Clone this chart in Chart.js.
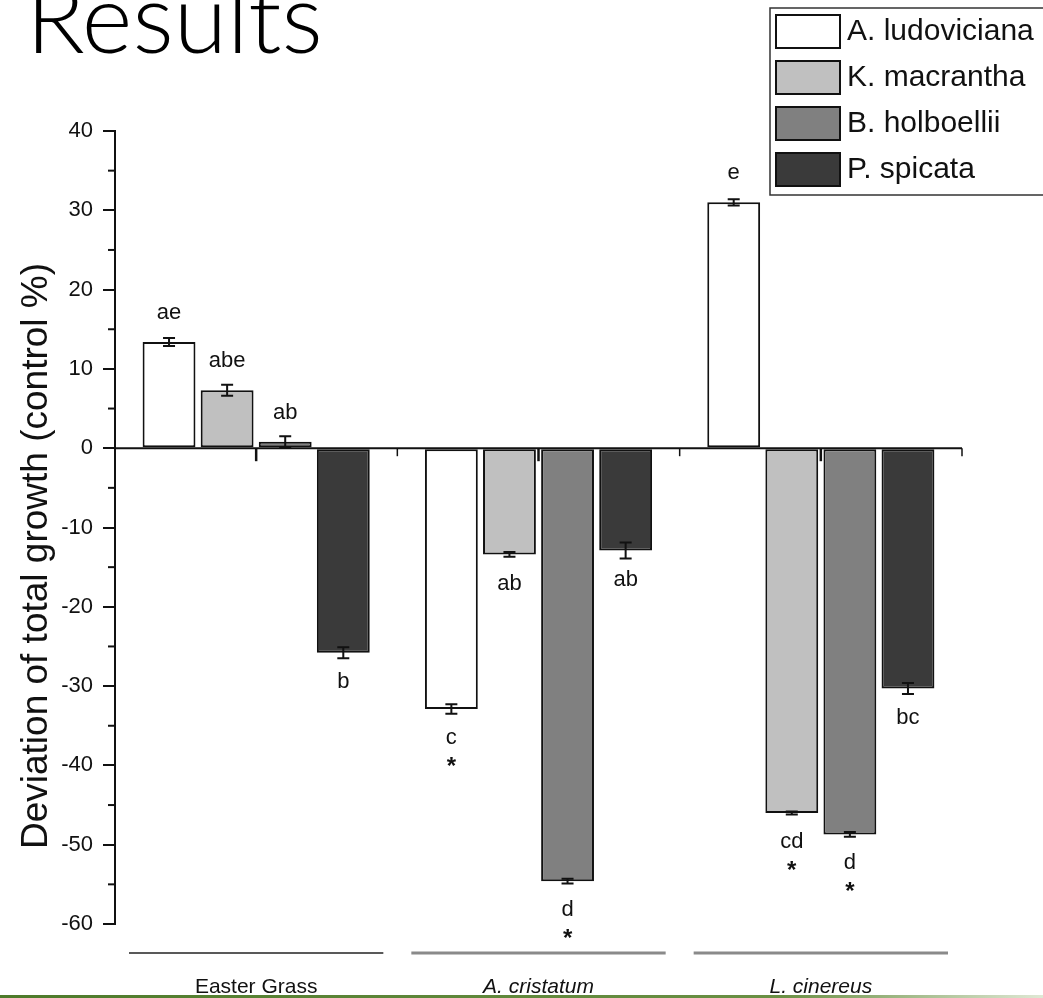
<!DOCTYPE html>
<html>
<head>
<meta charset="utf-8">
<script src="https://cdn.jsdelivr.net/npm/chart.js@4"></script>
<style>
  html, body { margin: 0; padding: 0; background: #fff; overflow: hidden; }
  #wrap { position: relative; width: 1043px; height: 998px; }
  #myChart { position: absolute; left: 0; top: 0; }
  #slideTitle {
    position: absolute; left: 26px; top: -33px; margin: 0;
    font-family: Lato, 'Open Sans', sans-serif; font-weight: 300;
    font-size: 97px; line-height: 97px; color: #000; white-space: nowrap;
  }
  #greenRule {
    position: absolute; left: 0; bottom: 0; width: 1043px; height: 3px;
    background: linear-gradient(to right, #4d7a2a 0%, #6a9044 75%, #dfe8d4 100%);
  }
</style>
</head>
<body>
<div id="wrap">
  <canvas id="myChart" width="1043" height="998"></canvas>
  <div id="slideTitle">Results</div>
  <div id="greenRule"></div>
</div>
<script>
// categories and series
const groups = ['Easter Grass', 'A. cristatum', 'L. cinereus'];
const italicGroups = [false, true, true];
const species = ['A. ludoviciana', 'K. macrantha', 'B. holboellii', 'P. spicata'];
const fills = ['#ffffff', '#c0c0c0', '#808080', '#3a3a3a'];

const ludoviciana = [13.4, -32.9, 31.0];
const macrantha = [7.3, -13.4, -46.0];
const holboellii = [0.8, -54.6, -48.7];
const spicata = [-25.8, -12.9, -30.3];

// standard errors
const errLudoviciana = [0.5, 0.6, 0.4];
const errMacrantha = [0.7, 0.3, 0.2];
const errHolboellii = [0.7, 0.3, 0.3];
const errSpicata = [0.7, 1.0, 0.7];

// significance letters and stars
const lettersLudoviciana = ['ae', 'c', 'e'];
const lettersMacrantha = ['abe', 'ab', 'cd'];
const lettersHolboellii = ['ab', 'd', 'd'];
const lettersSpicata = ['b', 'ab', 'bc'];
const starsLudoviciana = [false, true, false];
const starsMacrantha = [false, false, true];
const starsHolboellii = [false, true, true];
const starsSpicata = [false, false, false];

const yMin = -60, yMax = 40, yMajor = 10;
const yTitle = 'Deviation of total growth (control %)';

const series = [ludoviciana, macrantha, holboellii, spicata];
const errors = [errLudoviciana, errMacrantha, errHolboellii, errSpicata];
const letters = [lettersLudoviciana, lettersMacrantha, lettersHolboellii, lettersSpicata];
const stars = [starsLudoviciana, starsMacrantha, starsHolboellii, starsSpicata];

const FONT = "'Liberation Sans', Arial, sans-serif";
const INK = '#111';

const extras = {
    id: 'extras',
    afterDatasetsDraw(chart) {
        const ctx = chart.ctx;
        const x = chart.scales.x, y = chart.scales.y;
        const area = chart.chartArea;
        const y0 = y.getPixelForValue(0);
        ctx.save();

        // zero line with group ticks
        ctx.strokeStyle = INK;
        ctx.lineWidth = 2;
        ctx.beginPath();
        ctx.moveTo(area.left, y0);
        ctx.lineTo(area.right, y0);
        ctx.stroke();
        const catW = (area.right - area.left) / groups.length;
        for (let i = 0; i < groups.length; i++) {
            const cx = x.getPixelForValue(i);
            ctx.lineWidth = 2.5;
            ctx.beginPath();
            ctx.moveTo(cx, y0);
            ctx.lineTo(cx, y0 + 13);
            ctx.stroke();
            const bx = area.left + catW * (i + 1);
            ctx.lineWidth = 1.5;
            ctx.beginPath();
            ctx.moveTo(bx, y0);
            ctx.lineTo(bx, y0 + 8);
            ctx.stroke();
        }

        // minor y ticks
        ctx.lineWidth = 2;
        for (let v = yMin + yMajor / 2; v < yMax; v += yMajor) {
            const py = y.getPixelForValue(v);
            ctx.beginPath();
            ctx.moveTo(area.left - 7, py);
            ctx.lineTo(area.left, py);
            ctx.stroke();
        }

        // error bars and letters
        ctx.textAlign = 'center';
        ctx.textBaseline = 'middle';
        series.forEach((vals, d) => {
            const meta = chart.getDatasetMeta(d);
            meta.data.forEach((bar, i) => {
                const v = vals[i], e = errors[d][i];
                const top = y.getPixelForValue(v + e);
                const bot = y.getPixelForValue(v - e);
                ctx.strokeStyle = INK;
                ctx.lineWidth = 2;
                ctx.beginPath();
                ctx.moveTo(bar.x, top); ctx.lineTo(bar.x, bot);
                ctx.moveTo(bar.x - 6, top); ctx.lineTo(bar.x + 6, top);
                ctx.moveTo(bar.x - 6, bot); ctx.lineTo(bar.x + 6, bot);
                ctx.stroke();

                const end = y.getPixelForValue(v);
                const dir = v >= 0 ? -1 : 1;
                ctx.fillStyle = INK;
                ctx.font = '22px ' + FONT;
                ctx.fillText(letters[d][i], bar.x, end + dir * 29);
                if (stars[d][i]) {
                    ctx.font = 'bold 24px ' + FONT;
                    ctx.fillText('*', bar.x, end + dir * 58);
                }
            });
        });

        // group underlines
        for (let i = 0; i < groups.length; i++) {
            const l = area.left + catW * i + 14;
            const r = area.left + catW * (i + 1) - 14;
            ctx.strokeStyle = i === 0 ? '#222' : '#8a8a8a';
            ctx.lineWidth = i === 0 ? 1.5 : 3;
            ctx.beginPath();
            ctx.moveTo(l, 953);
            ctx.lineTo(r, 953);
            ctx.stroke();
        }

        // y title
        ctx.save();
        ctx.translate(37, 556);
        ctx.rotate(-Math.PI / 2);
        ctx.font = '37px ' + FONT;
        ctx.fillStyle = INK;
        ctx.textAlign = 'center';
        ctx.textBaseline = 'middle';
        ctx.fillText(yTitle, 0, 0);
        ctx.restore();

        // legend box
        const lx = 770, ly = 8, rowH = 46;
        ctx.fillStyle = '#fff';
        ctx.fillRect(lx, ly, 1043 - lx + 5, 187);
        ctx.strokeStyle = '#333';
        ctx.lineWidth = 1.5;
        ctx.strokeRect(lx, ly, 1043 - lx + 5, 187);
        chart.data.datasets.forEach((ds, d) => {
            const sy = 15 + d * rowH;
            ctx.fillStyle = ds.backgroundColor;
            ctx.fillRect(776, sy, 64, 33);
            ctx.strokeStyle = INK;
            ctx.lineWidth = 2;
            ctx.strokeRect(776, sy, 64, 33);
            ctx.fillStyle = INK;
            ctx.font = '30px ' + FONT;
            ctx.textAlign = 'left';
            ctx.textBaseline = 'middle';
            ctx.fillText(ds.label, 847, sy + 17);
        });

        ctx.restore();
    }
};

new Chart(document.getElementById('myChart'), {
    type: 'bar',
    data: {
        labels: groups,
        datasets: species.map((name, d) => ({
            label: name,
            data: series[d],
            backgroundColor: fills[d],
            borderColor: INK,
            borderWidth: 2,
            borderSkipped: false,
            categoryPercentage: 0.823,
            barPercentage: 0.91,
        })),
    },
    options: {
        responsive: false,
        animation: false,
        layout: {
            padding: { top: 131, right: 81, bottom: 0, left: 0 },
        },
        plugins: {
            legend: { display: false },
            title: { display: false },
            tooltip: { enabled: false },
        },
        scales: {
            x: {
                type: 'category',
                position: 'bottom',
                grid: { display: false, drawTicks: false },
                border: { display: false },
                ticks: {
                    font: (c) => ({
                        family: FONT,
                        size: 21,
                        style: italicGroups[c.index] ? 'italic' : 'normal',
                    }),
                    color: INK,
                    padding: 51,
                    maxRotation: 0,
                },
                afterFit(scale) { scale.height = 74; },
            },
            y: {
                min: yMin,
                max: yMax,
                ticks: {
                    stepSize: yMajor / 2,
                    autoSkip: false,
                    maxTicksLimit: 40,
                    font: { family: FONT, size: 22 },
                    color: INK,
                    padding: 10,
                    callback: (v) => (v % yMajor === 0 ? v : ''),
                },
                grid: {
                    drawOnChartArea: false,
                    drawTicks: true,
                    tickLength: 12,
                    lineWidth: 2,
                    color: (c) => (c.tick && c.tick.value % yMajor === 0 ? INK : 'rgba(0,0,0,0)'),
                },
                border: { display: true, color: INK, width: 2 },
                afterFit(scale) { scale.width = 115; },
            },
        },
    },
    plugins: [extras],
});
</script>
</body>
</html>
